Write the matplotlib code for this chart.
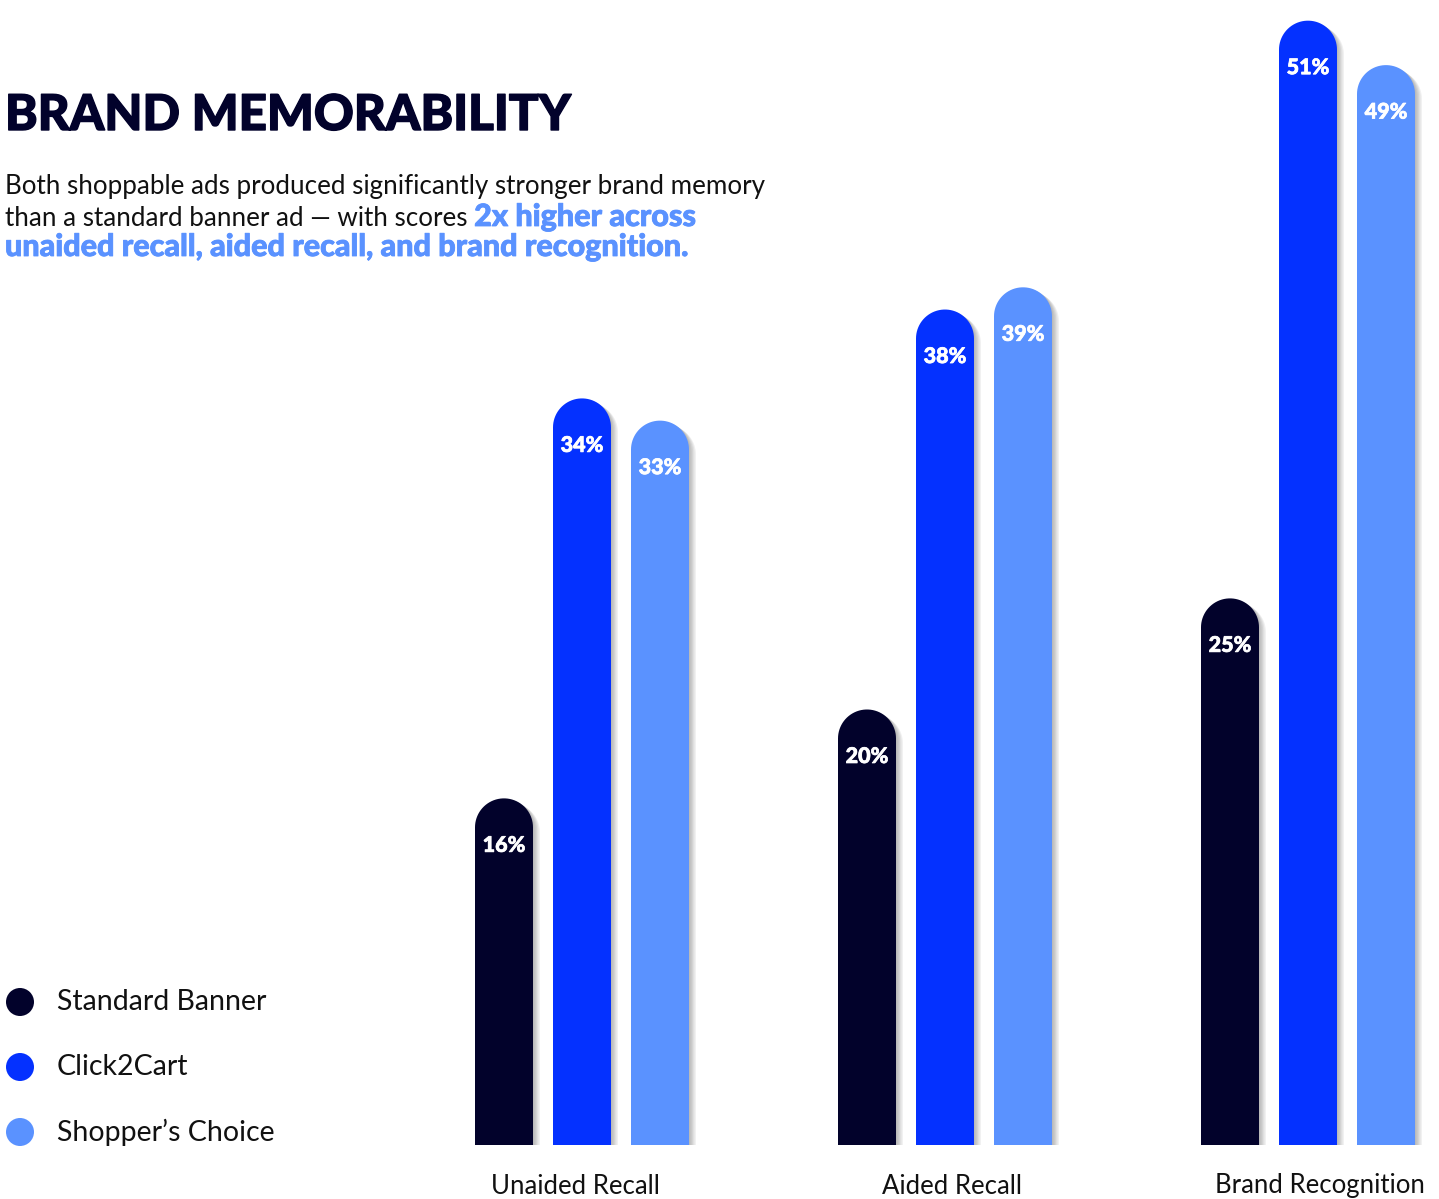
import numpy as np
import matplotlib
matplotlib.use("Agg")
import matplotlib.pyplot as plt
from matplotlib.path import Path
from matplotlib.patches import PathPatch, Circle
import matplotlib.patheffects as pe

# DATOS
categorias = ["Unaided Recall", "Aided Recall", "Brand Recognition"]
series = ["Standard Banner", "Click2Cart", "Shopper\u2019s Choice"]
standard_banner = [16, 20, 25]
click2cart = [34, 38, 51]
shoppers_choice = [33, 39, 49]
colores = ["#02022B", "#0431FF", "#5A92FF"]

valores = [standard_banner, click2cart, shoppers_choice]

plt.rcParams["font.family"] = ["Lato", "DejaVu Sans"]
TXT = "#111111"
AZUL_CLARO = "#5A92FF"

W, H = 1439, 1199
fig = plt.figure(figsize=(W / 100, H / 100), dpi=100)
fig.patch.set_facecolor("white")

# ejes de barras: base a 1145 px desde arriba
px_por_pct = 22.22
y0 = 0.4
base_px = 1145
centro0, paso = 582, 363
ax = fig.add_axes([0, (H - base_px) / H, 1, base_px / H])
ax.set_xlim(-centro0 / paso, (W - centro0) / paso)
ax.set_ylim(y0, y0 + base_px / px_por_pct)
ax.axis("off")

ancho = 58 / paso
desp = [-78 / paso, 0, 78 / paso]
ry = 29 / px_por_pct  # radio vertical de la tapa redonda
rx = ancho / 2

sombra = [pe.SimplePatchShadow(offset=(o, -o * 0.7), shadow_rgbFace="k", alpha=0.06)
          for o in (1, 2, 3, 4, 5)] + [pe.Normal()]


def barra(x, h, color):
    x0, x1 = x - rx, x + rx
    t = np.linspace(np.pi, 0, 40)
    xs = np.concatenate([[x0], x + rx * np.cos(t), [x1, x0]])
    ys = np.concatenate([[y0], (h - ry) + ry * np.sin(t), [y0, y0]])
    p = PathPatch(Path(np.column_stack([xs, ys])), facecolor=color,
                  edgecolor="none", zorder=2)
    p.set_path_effects(sombra)
    ax.add_patch(p)


grueso_blanco = [pe.withStroke(linewidth=0.5, foreground="white")]
for s in range(3):
    for g in range(3):
        x = g + desp[s]
        v = valores[s][g]
        barra(x, v, colores[s])
        ax.text(x, v - 47 / px_por_pct, "%d%%" % v, color="white",
                fontsize=15.5, fontweight=900, ha="center", va="center", zorder=3,
                path_effects=grueso_blanco)

ajuste_etiq = [-7, 7, 12]  # px
for g in range(3):
    ax.text(g + ajuste_etiq[g] / paso, y0 - 41 / px_por_pct, categorias[g], fontsize=18.5,
            color=TXT, ha="center", va="center", clip_on=False)

# TITULO Y TEXTO
fig.text(5 / W, 1 - 130 / H, "BRAND MEMORABILITY", fontsize=35.5, fontweight=900,
         color="#02022B", ha="left", va="baseline",
         path_effects=[pe.withStroke(linewidth=1.0, foreground="#02022B")])
fig.text(5 / W, 1 - 194 / H, "Both shoppable ads produced significantly stronger brand memory",
         fontsize=18.7, color=TXT, ha="left", va="baseline")
t2 = fig.text(5 / W, 1 - 226 / H, "than a standard banner ad \u2014 with scores ",
              fontsize=18.7, color=TXT, ha="left", va="baseline")
r = fig.canvas.get_renderer()
x2 = t2.get_window_extent(r).x1
grueso_azul = [pe.withStroke(linewidth=0.6, foreground=AZUL_CLARO)]
fig.text(x2 / W, 1 - 226 / H, "2x higher across", fontsize=22, fontweight=900,
         color=AZUL_CLARO, ha="left", va="baseline", path_effects=grueso_azul)
fig.text(5 / W, 1 - 256 / H, "unaided recall, aided recall, and brand recognition.",
         fontsize=22, fontweight=900, color=AZUL_CLARO, ha="left", va="baseline",
         path_effects=grueso_azul)

# LEYENDA
ax_ley = fig.add_axes([0, 0, 1, 1], facecolor="none")
ax_ley.set_xlim(0, W)
ax_ley.set_ylim(H, 0)
ax_ley.axis("off")
ys_ley = [1002, 1067, 1132]
for i in range(3):
    ax_ley.add_patch(Circle((20, ys_ley[i]), 14, facecolor=colores[i], edgecolor="none"))
    ax_ley.text(57, ys_ley[i], series[i], fontsize=20.5, color=TXT, ha="left", va="center")

plt.savefig("out.png", dpi=100)
